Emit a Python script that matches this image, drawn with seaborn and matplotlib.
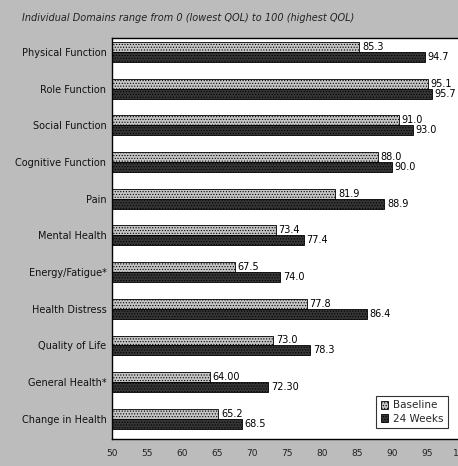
import matplotlib
matplotlib.use("Agg")
import matplotlib.pyplot as plt
import seaborn as sns
import pandas as pd

domains = [
    "Physical Function", "Role Function", "Social Function", "Cognitive Function",
    "Pain", "Mental Health", "Energy/Fatigue*", "Health Distress",
    "Quality of Life", "General Health*", "Change in Health",
]
baseline = [85.3, 95.1, 91.0, 88.0, 81.9, 73.4, 67.5, 77.8, 73.0, 64.00, 65.2]
week24 = [94.7, 95.7, 93.0, 90.0, 88.9, 77.4, 74.0, 86.4, 78.3, 72.30, 68.5]
# decimals shown on each value label
baseline_decimals = [1, 1, 1, 1, 1, 1, 1, 1, 1, 2, 1]
week24_decimals = [1, 1, 1, 1, 1, 1, 1, 1, 1, 2, 1]
series = ["Baseline", "24 Weeks"]
xticks = [50, 55, 60, 65, 70, 75, 80, 85, 90, 95, 100]

df = pd.DataFrame({
    "domain": domains * 2,
    "score": baseline + week24,
    "period": [series[0]] * len(domains) + [series[1]] * len(domains),
})

sns.set_theme(style="white")
plt.rcParams["font.family"] = ["DejaVu Sans"]
plt.rcParams["hatch.linewidth"] = 0.5

W, H = 458, 466
fig = plt.figure(figsize=(W / 100, H / 100), dpi=100)
fig.patch.set_facecolor("#bcbcbc")

left, right, top, bottom = 112, 462, 38, 439
ax = fig.add_axes([left / W, 1 - bottom / H, (right - left) / W, (bottom - top) / H])
ax.set_facecolor("white")

palette = {"Baseline": "#c4c4c4", "24 Weeks": "#353535"}
sns.barplot(
    data=df, y="domain", x="score", hue="period", order=domains,
    hue_order=series, palette=palette, orient="h", width=0.54,
    edgecolor="black", linewidth=0.6, saturation=1, ax=ax, legend=True,
)

hatches = ["......", "......"]
for cont, h in zip(ax.containers, hatches):
    for bar in cont:
        bar.set_hatch(h)

ax.bar_label(ax.containers[0],
             labels=[f"{v:.{d}f}" for v, d in zip(baseline, baseline_decimals)],
             padding=2, fontsize=7, color="black")
ax.bar_label(ax.containers[1],
             labels=[f"{v:.{d}f}" for v, d in zip(week24, week24_decimals)],
             padding=2, fontsize=7, color="black")

ax.set_xlim(50, 100)
ax.set_ylim(10.55, -0.38)
ax.set_xticks(xticks)
ax.set_xticklabels([str(t) for t in xticks], fontsize=6.5, color="#222222")
ax.tick_params(axis="x", length=2, pad=5, colors="#222222")
ax.tick_params(axis="y", length=0, pad=4, labelsize=7, labelcolor="#111111")
ax.set_xlabel("")
ax.set_ylabel("")
for s in ax.spines.values():
    s.set_color("black")
    s.set_linewidth(1.0)

leg = ax.legend(
    loc="lower right", bbox_to_anchor=((453 - left) / (right - left), (bottom - 433) / (bottom - top)),
    fontsize=7.5, frameon=True, fancybox=False, edgecolor="black",
    handlelength=0.7, handleheight=0.7, handletextpad=0.5, borderpad=0.4,
    labelspacing=0.3,
)
leg.get_frame().set_linewidth(0.8)
for h, hatch in zip(leg.legend_handles, hatches):
    h.set_hatch(hatch)

fig.text(22 / W, 1 - 18 / H,
         "Individual Domains range from 0 (lowest QOL) to 100 (highest QOL)",
         fontsize=7, style="italic", color="#222222", va="center", ha="left")

fig.savefig("out.png", dpi=100, facecolor=fig.get_facecolor())
